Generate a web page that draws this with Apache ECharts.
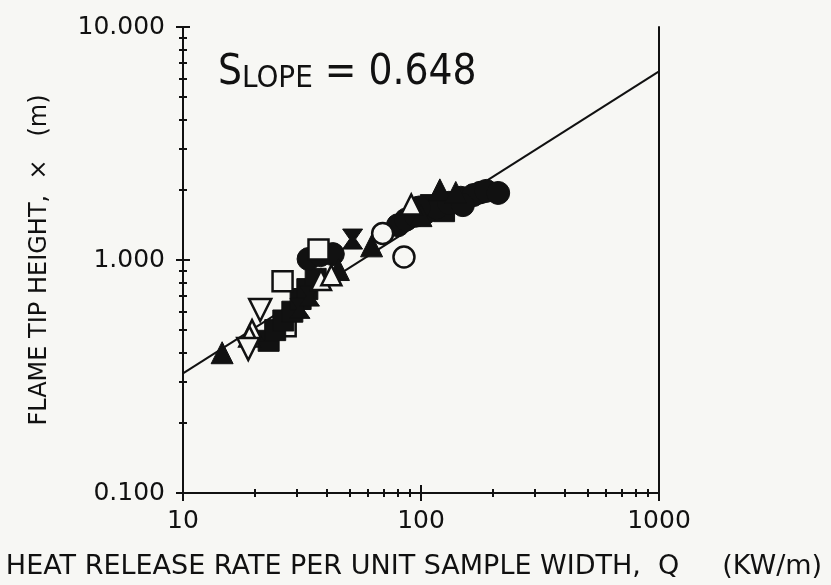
<!DOCTYPE html>
<html>
<head>
<meta charset="utf-8">
<script src="https://cdn.jsdelivr.net/npm/echarts@6/dist/echarts.min.js"></script>
<style>
html, body { margin: 0; padding: 0; background: #f7f7f4; }
#chart { width: 831px; height: 585px; }
</style>
</head>
<body>
<div id="chart"></div>
<script>
// Q (kW/m) vs X (m)
const filledTriangle = [[14.6, 0.40], [45, 0.91], [120, 2.0], [62, 1.15], [100, 1.55], [140, 1.95]];
const openTriangle = [[19.5, 0.50], [38, 0.82], [91, 1.73], [19, 0.47], [42, 0.86]];
const openTriangleDown = [[21.1, 0.61], [18.8, 0.415]];
const openSquare = [[26.2, 0.81], [37.1, 1.11], [27, 0.52]];
const filledSquare = [[22.9, 0.45], [24.4, 0.50], [26.4, 0.55], [28.8, 0.60], [31.2, 0.68], [33.3, 0.75], [36.1, 0.83],
    [110, 1.72], [125, 1.62]];
const openCircle = [[84.8, 1.03], [69, 1.30], [178, 1.95]];
const filledCircle = [[33.7, 1.01], [37.8, 1.05], [42.6, 1.06], [80, 1.41], [86.5, 1.49], [95, 1.55],
    [105, 1.60], [116, 1.68], [131, 1.76], [147, 1.85], [166, 1.90], [188, 1.98], [211, 1.94],
    [98, 1.68], [150, 1.72]];
const hourglass = [[51.6, 1.23], [31, 0.62], [34, 0.70]];
// fitted line, slope 0.648
const fitLine = [[10, 0.326], [1000, 6.45]];

const xMajor = [10, 100, 1000];
const xMinor = [20, 30, 40, 50, 60, 70, 80, 90, 200, 300, 400, 500, 600, 700, 800, 900];
const yMajor = [0.1, 1, 10];
const yMinor = [0.2, 0.3, 0.4, 0.5, 0.6, 0.7, 0.8, 0.9, 2, 3, 4, 5, 6, 7, 8, 9];

const ink = '#111';
const bg = '#f7f7f4';
const fontFam = '"DejaVu Sans", sans-serif';
const narrow = '"Liberation Sans Narrow", "DejaVu Sans Condensed", sans-serif';

function logAxis(pos, min, max, ticks, inside, len, extra) {
    return Object.assign({
        type: 'log',
        logBase: 10,
        position: pos,
        min: min,
        max: max,
        axisLine: { show: true, lineStyle: { color: ink, width: 2 } },
        axisTick: { show: true, inside: inside, length: len, customValues: ticks, lineStyle: { color: ink, width: 2 } },
        axisLabel: { show: false },
        splitLine: { show: false }
    }, extra || {});
}

const xAxes = [
    logAxis('bottom', 10, 1000, xMajor, false, 8, {
        axisLabel: {
            show: true, customValues: xMajor, color: ink, fontSize: 25, fontFamily: fontFam, margin: 16,
            formatter: function (v) { return String(Math.round(v)); }
        },
        name: 'HEAT RELEASE RATE PER UNIT SAMPLE WIDTH,  Q     (KW/m)',
        nameLocation: 'middle',
        nameGap: 60,
        nameTextStyle: { color: ink, fontSize: 27, fontFamily: fontFam, padding: [0, 14, 0, 0] }
    }),
    logAxis('bottom', 10, 1000, xMajor, true, 8),
    logAxis('bottom', 10, 1000, xMinor, false, 4),
    logAxis('bottom', 10, 1000, xMinor, true, 4)
];

const yAxes = [
    logAxis('left', 0.1, 10, yMajor, false, 7, {
        axisLabel: {
            show: true, customValues: yMajor, color: ink, fontSize: 25, fontFamily: fontFam, margin: 18,
            formatter: function (v) { return v.toFixed(3); }
        },
        name: 'FLAME TIP HEIGHT,  ×   (m)',
        nameLocation: 'middle',
        nameGap: 131,
        nameTextStyle: { color: ink, fontSize: 24, fontFamily: fontFam }
    }),
    logAxis('left', 0.1, 10, yMajor, true, 7),
    logAxis('left', 0.1, 10, yMinor, false, 4),
    logAxis('left', 0.1, 10, yMinor, true, 4),
    logAxis('right', 0.1, 10, [], false, 0, { axisTick: { show: false } })
];

function pts(name, data, symbol, size, filled, z) {
    return {
        name: name,
        type: 'scatter',
        data: data,
        symbol: symbol,
        symbolSize: size,
        itemStyle: filled
            ? { color: ink, borderColor: ink, borderWidth: 1, opacity: 1 }
            : { color: bg, borderColor: ink, borderWidth: 2.5, opacity: 1 },
        emphasis: { disabled: true },
        z: z
    };
}

const downTri = 'path://M0,0 L10,0 L5,9 Z';
const hourglassPath = 'path://M0,0 L10,0 L6.5,5 L10,10 L0,10 L3.5,5 Z';

const chart = echarts.init(document.getElementById('chart'));
chart.setOption({
    backgroundColor: bg,
    animation: false,
    grid: { left: 183, right: 172, top: 27, bottom: 86 },
    xAxis: xAxes,
    yAxis: yAxes,
    graphic: [{
        type: 'text',
        left: 218,
        top: 52,
        style: {
            text: '{a|S}{b|LOPE} = 0.648',
            fill: ink,
            font: '42px ' + narrow,
            rich: {
                a: { fontSize: 42, fontFamily: narrow, fill: ink },
                b: { fontSize: 31, fontFamily: narrow, fill: ink, verticalAlign: 'bottom' }
            }
        }
    }],
    series: [
        {
            name: 'fit',
            type: 'line',
            data: fitLine,
            symbol: 'none',
            lineStyle: { color: ink, width: 2 },
            z: 2
        },
        pts('openCircleBack', openCircle.slice(2), 'circle', 21, false, 3),
        pts('openSquareBack', openSquare.slice(2), 'rect', 20, false, 3),
        pts('filledSquare', filledSquare, 'rect', 21, true, 4),
        pts('filledCircle', filledCircle, 'circle', 23, true, 4),
        pts('filledTriangle', filledTriangle, 'triangle', 22, true, 4),
        pts('hourglass', hourglass, hourglassPath, 20, true, 4),
        pts('openTriangle', openTriangle, 'triangle', 20, false, 5),
        pts('openTriangleDown', openTriangleDown, downTri, 22, false, 5),
        pts('openSquare', openSquare.slice(0, 2), 'rect', 20, false, 5),
        pts('openCircle', openCircle.slice(0, 2), 'circle', 21, false, 5)
    ]
});
</script>
</body>
</html>
